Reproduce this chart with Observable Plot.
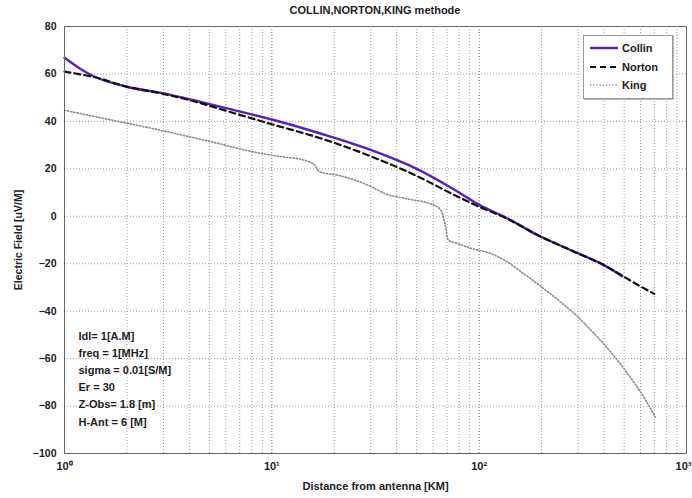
<!DOCTYPE html>
<html>
<head>
<meta charset="utf-8">
<script src="https://cdn.jsdelivr.net/npm/d3@7"></script>
<script src="https://cdn.jsdelivr.net/npm/@observablehq/plot@0.6"></script>
<style>
  html, body { margin: 0; padding: 0; background: #fff; }
  #wrap { position: relative; width: 692px; height: 498px; font-family: "Liberation Sans", Arial, sans-serif; }
  #title { height: 20px; line-height: 20px; font-size: 11px; font-weight: bold; text-align: center; padding-left: 64px; padding-right: 6px; box-sizing: border-box; width: 692px; color: #222; }
  #legend { position: absolute; left: 583px; top: 35px; width: 90px; background: #fff; border: 1px solid #999; box-shadow: 1px 1px 0 #bbb; padding: 3px 0 3px 0; box-sizing: border-box; }
  .row { display: flex; align-items: center; height: 18.5px; font-size: 11px; font-weight: bold; color: #222; }
  .row svg { margin-left: 6px; margin-right: 4px; }
</style>
</head>
<body>
<div id="wrap">
  <div id="title"></div>
  <div id="chart"></div>
  <div id="legend"></div>
</div>
<script>
const titleText = "COLLIN,NORTON,KING methode";
const xLabel = "Distance from antenna [KM]";
const yLabel = "Electric Field [uV/M]";

const seriesNames = ["Collin", "Norton", "King"];

const collinX = [1, 1.2, 1.4, 2, 3, 4.2, 6, 10, 17, 30, 50, 75, 100, 135, 190, 280, 400, 490];
const collinY = [66.8, 62, 58.8, 54.6, 51.8, 48.9, 45.6, 40.8, 35, 28, 20, 11.5, 4.8, -0.6, -7.8, -14.5, -20.6, -25.3];

const nortonX = [1, 1.2, 1.4, 2, 3, 4.2, 6, 10, 17, 30, 50, 75, 100, 135, 190, 280, 400, 590, 700];
const nortonY = [61, 59.8, 58.6, 54.6, 51.6, 48.5, 44.5, 38.8, 33, 25.3, 17, 9.2, 4, -0.8, -7.8, -14.5, -20.6, -29.2, -32.7];

const kingX = [1, 1.7, 2.9, 5.1, 8.9, 11, 14.4, 16.1, 17, 20.8, 30.3, 35, 44, 61, 66, 68.4, 71, 79, 92, 114, 133, 160, 200, 250, 300, 350, 405, 507, 636, 708];
const kingY = [44.7, 40.5, 36.3, 31.4, 26.5, 25.2, 23.6, 21.5, 18.7, 17.3, 12.4, 9.6, 7.5, 4.6, 1.8, -3.1, -10.1, -11.5, -13.6, -15.7, -18.6, -23.5, -29.8, -36.5, -42.5, -48.5, -54.5, -65, -77.6, -84.7];

const xMajorTicks = [1, 10, 100, 1000];
const xTickLabels = ["10\u2070", "10\u00b9", "10\u00b2", "10\u00b3"];
const yTicks = [-100, -80, -60, -40, -20, 0, 20, 40, 60, 80];

const params = ["Idl= 1[A.M]", "freq = 1[MHz]", "sigma = 0.01[S/M]", "Er = 30", "Z-Obs= 1.8 [m]", "H-Ant = 6 [M]"];

const styles = {
  Collin: {stroke: "#5a1fc0", strokeWidth: 2.4, dash: null},
  Norton: {stroke: "#111", strokeWidth: 2.2, dash: "6,4"},
  King:   {stroke: "#8a8a8a", strokeWidth: 1.6, dash: "1.2,2"}
};

const toRows = (xs, ys) => xs.map((x, i) => ({x, y: ys[i]}));
const data = {
  Collin: toRows(collinX, collinY),
  Norton: toRows(nortonX, nortonY),
  King: toRows(kingX, kingY)
};

const minorTicks = [];
for (const d of [1, 10, 100]) for (let k = 1; k <= 10; k++) minorTicks.push(d * k);

document.getElementById("title").textContent = titleText;

const font = "Liberation Sans, Arial, sans-serif";
const labelOf = d => xTickLabels[xMajorTicks.indexOf(d)];

const chart = Plot.plot({
  width: 692,
  height: 478,
  marginTop: 6,
  marginBottom: 45,
  marginLeft: 64,
  marginRight: 6,
  style: {fontFamily: font, fontSize: "10.5px", fontWeight: "bold", color: "#222", background: "#fff"},
  x: {type: "log", domain: [1, 1000]},
  y: {domain: [-100, 80]},
  marks: [
    Plot.gridX(minorTicks, {stroke: "#888", strokeOpacity: 0.8, strokeDasharray: "1,2"}),
    Plot.gridY(yTicks, {stroke: "#888", strokeOpacity: 0.8, strokeDasharray: "1,2"}),
    Plot.axisX(xMajorTicks.slice(0, 3), {tickSize: 0, tickPadding: 9, tickFormat: labelOf, fontSize: 11, label: xLabel, labelAnchor: "center", labelOffset: 36, labelArrow: false}),
    Plot.axisX(xMajorTicks.slice(3), {tickSize: 0, tickPadding: 9, tickFormat: labelOf, fontSize: 11, textAnchor: "end", dx: 5, label: null}),
    Plot.axisY(yTicks, {tickSize: 0, tickPadding: 8, label: yLabel, labelAnchor: "center", labelOffset: 50, labelArrow: false}),
    Plot.line(data.King, {x: "x", y: "y", curve: "monotone-x", stroke: styles.King.stroke, strokeWidth: styles.King.strokeWidth, strokeDasharray: styles.King.dash}),
    Plot.line(data.Collin, {x: "x", y: "y", curve: "monotone-x", stroke: styles.Collin.stroke, strokeWidth: styles.Collin.strokeWidth}),
    Plot.line(data.Norton, {x: "x", y: "y", curve: "monotone-x", stroke: styles.Norton.stroke, strokeWidth: styles.Norton.strokeWidth, strokeDasharray: styles.Norton.dash}),
    Plot.text([params.join("\n")], {frameAnchor: "bottom-left", dx: 14, dy: -28, lineAnchor: "bottom", textAnchor: "start", lineHeight: 1.55, fontSize: 11, fontWeight: "bold", fill: "#222"}),
    Plot.frame({stroke: "#666"})
  ]
});
document.getElementById("chart").appendChild(chart);

const legend = document.getElementById("legend");
for (const name of seriesNames) {
  const s = styles[name];
  const row = document.createElement("div");
  row.className = "row";
  row.innerHTML = `<svg width="28" height="8"><line x1="0" y1="4" x2="28" y2="4" stroke="${s.stroke}" stroke-width="${s.strokeWidth}" ${s.dash ? `stroke-dasharray="${s.dash}"` : ""}/></svg><span>${name}</span>`;
  legend.appendChild(row);
}
</script>
</body>
</html>
